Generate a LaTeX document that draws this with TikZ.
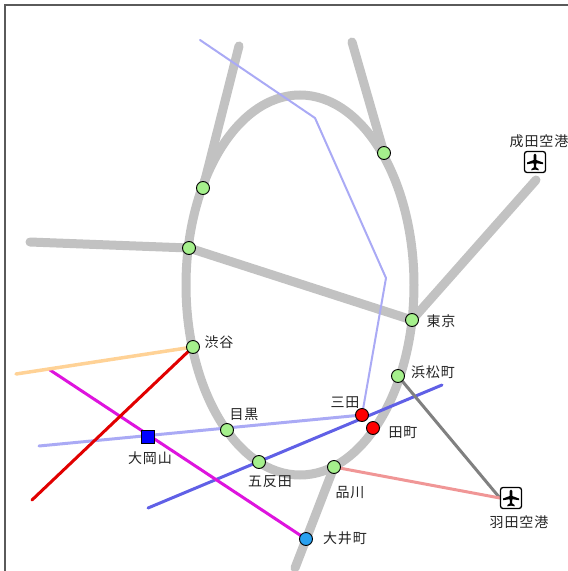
\documentclass[tikz,border=0pt]{standalone}
\usepackage{fontspec}
\newfontfamily\jp[LetterSpace=6]{Noto Sans CJK JP}
\pgfdeclarelayer{bg}
\pgfsetlayers{bg,main}
\definecolor{railgray}{RGB}{194,194,194}
\definecolor{lblue}{RGB}{170,170,245}
\definecolor{dblue}{RGB}{96,96,230}
\definecolor{magen}{RGB}{222,20,222}
\definecolor{rred}{RGB}{225,0,0}
\definecolor{orng}{RGB}{255,210,150}
\definecolor{dgray}{RGB}{128,128,128}
\definecolor{pinkl}{RGB}{240,150,150}
\definecolor{stgreen}{RGB}{165,240,140}
\definecolor{oiblue}{RGB}{40,160,240}
\definecolor{frame}{RGB}{90,90,90}
\definecolor{txt}{RGB}{35,35,35}
\tikzset{
  sta/.style={circle,draw=black,line width=0.9pt,fill=stgreen,minimum size=13pt,inner sep=0pt},
  redsta/.style={sta,fill=red},
  lbl/.style={font=\jp\fontsize{14pt}{16pt}\selectfont,text=txt,inner sep=0pt},
  rail/.style={draw=railgray,line width=9pt,line cap=round},
  thin/.style={line width=3pt,line cap=round},
  icon/.style={draw=black,line width=1.3pt,rounded corners=2.5pt,minimum size=21pt,inner sep=0pt,fill=white},
}
\newcommand{\plane}[1]{%
  \fill[black,shift={(#1)}] (0,-8.5) -- (1.3,-7) -- (1.3,-2) -- (8,0.5) -- (8,2.2) -- (1.3,1.2) -- (1.1,5.3) -- (3.6,7) -- (3.6,8.3) -- (0,7.6) -- (-3.6,8.3) -- (-3.6,7) -- (-1.1,5.3) -- (-1.3,1.2) -- (-8,2.2) -- (-8,0.5) -- (-1.3,-2) -- (-1.3,-7) -- cycle;}
\begin{document}
\begin{tikzpicture}[x=1pt,y=-1pt]
\useasboundingbox (0,0) rectangle (568,571);
\draw[frame,line width=2pt] (5,571) -- (5,5) -- (568,5);
% stations
\node[sta] (s1) at (203,188) {};
\node[sta] (s2) at (189,248) {};
\node[sta] (s3) at (384,153) {};
\node[sta] (shibuya) at (193,347) {};
\node[sta] (meguro) at (227,430) {};
\node[sta] (gotanda) at (259,462) {};
\node[sta] (shinagawa) at (334,467) {};
\node[sta] (tokyo) at (412,320) {};
\node[sta] (hamamatsucho) at (398,376) {};
\node[redsta] (mita) at (362,415) {};
\node[redsta] (tamachi) at (373,428) {};
\node[circle,draw=black,line width=0.9pt,fill=oiblue,minimum size=13pt,inner sep=0pt] (oimachi) at (306,539) {};
\node[draw=black,line width=0.9pt,fill=blue,minimum size=13pt,inner sep=0pt] (ookayama) at (148,437) {};
\node[icon] (narita) at (535,162) {};
\plane{narita.center}
\node[icon] (haneda) at (511,498) {};
\plane{haneda.center}
% labels
\node[lbl] (lshibuya) at (219,342) {渋谷};
\node[lbl] (lmeguro) at (244,414) {目黒};
\node[lbl] (lookayama) at (150,458) {大岡山};
\node[lbl] (lgotanda) at (270,482) {五反田};
\node[lbl] (ltokyo) at (441,321) {東京};
\node[lbl] (lhama) at (433,372) {浜松町};
\node[lbl] (lmita) at (345,403) {三田};
\node[lbl] (ltamachi) at (403,433) {田町};
\node[lbl] (lshinagawa) at (350,493) {品川};
\node[lbl] (loimachi) at (345,538) {大井町};
\node[lbl] (lnarita) at (539,141) {成田空港};
\node[lbl] (lhaneda) at (519,522) {羽田空港};
% free ends
\coordinate (g1) at (239,46);
\coordinate (g2) at (30,242);
\coordinate (g3) at (352,42);
\coordinate (g4) at (536,180);
\coordinate (g5) at (295,568);
\coordinate (b1) at (200,40);
\coordinate (b2) at (315,118);
\coordinate (b3) at (386,278);
\coordinate (b4) at (39,446);
\coordinate (d1) at (148,508);
\coordinate (d2) at (442,385);
\coordinate (m1) at (50,370);
\coordinate (r1) at (32,500);
\coordinate (o1) at (16,374);
\begin{pgfonlayer}{bg}
\draw[rail] (300,285) ellipse [x radius=114pt, y radius=190pt];
\draw[rail] (g1) -- (s1.center);
\draw[rail] (g2) -- (s2.center) -- (tokyo.center);
\draw[rail] (g3) -- (s3.center);
\draw[rail] (g4) -- (tokyo.center);
\draw[rail] (shinagawa.center) -- (g5);
\draw[lblue,line width=2pt,line cap=round,line join=round] (b1) -- (b2) -- (b3) -- (mita.center);
\draw[lblue,thin] (mita.center) -- (b4);
\draw[dblue,thin] (d1) -- (d2);
\draw[magen,thin] (m1) -- (oimachi.center);
\draw[rred,thin] (shibuya.center) -- (r1);
\draw[orng,line width=3.5pt,line cap=round] (shibuya.center) -- (o1);
\draw[dgray,thin] (hamamatsucho.center) -- (haneda.west);
\draw[pinkl,thin] (shinagawa.center) -- (haneda.west);
\end{pgfonlayer}
\end{tikzpicture}
\end{document}
